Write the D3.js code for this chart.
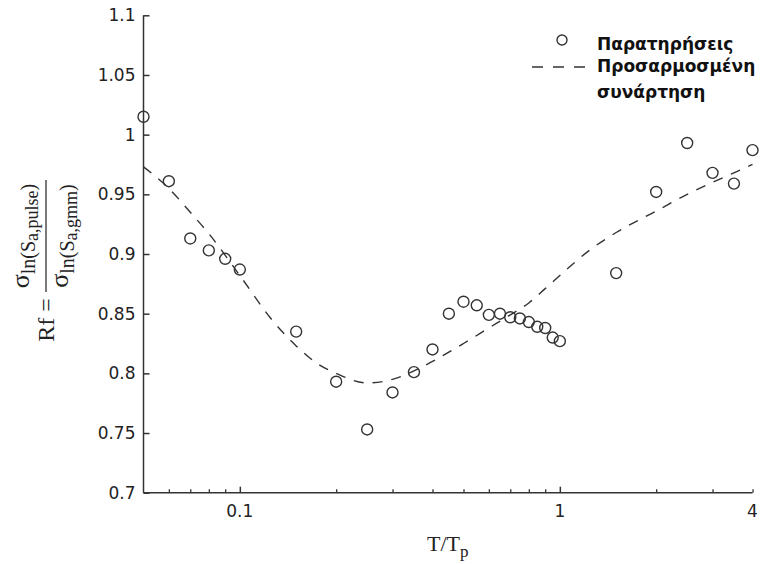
<!DOCTYPE html>
<html>
<head>
<meta charset="utf-8">
<script src="https://cdn.jsdelivr.net/npm/d3@7"></script>
<style>
  html, body { margin: 0; padding: 0; background: #fff; }
  svg { display: block; }
  .tick-label { font-family: 'DejaVu Sans', sans-serif; font-size: 17px; fill: #222; }
  .serif { font-family: 'Liberation Serif', 'Times New Roman', serif; fill: #222; }
  .legend-text { font-family: 'DejaVu Sans', sans-serif; font-size: 17px; font-weight: bold; fill: #111; }
</style>
</head>
<body>
<svg id="chart" width="761" height="564"></svg>
<script>
// ── Data ──────────────────────────────────────────────────
const obsT  = [0.05, 0.06, 0.07, 0.08, 0.09, 0.1, 0.15, 0.2, 0.25, 0.3, 0.35, 0.4, 0.45, 0.5, 0.55,
               0.6, 0.65, 0.7, 0.75, 0.8, 0.85, 0.9, 0.95, 1, 1.5, 2, 2.5, 3, 3.5, 4];
const obsRf = [1.015, 0.961, 0.913, 0.903, 0.896, 0.887, 0.835, 0.793, 0.753, 0.784, 0.801, 0.820, 0.850, 0.860, 0.857,
               0.849, 0.850, 0.847, 0.846, 0.843, 0.839, 0.838, 0.830, 0.827, 0.884, 0.952, 0.993, 0.968, 0.959, 0.987];

// fitted function
const fitT  = [0.05, 0.06, 0.07, 0.08, 0.1, 0.125, 0.15, 0.175, 0.2, 0.25, 0.3, 0.35, 0.4, 0.5, 0.6,
               0.7, 0.8, 0.9, 1, 1.25, 1.5, 2, 2.5, 3, 3.5, 4];
const fitRf = [0.973, 0.955, 0.935, 0.917, 0.882, 0.846, 0.823, 0.808, 0.800, 0.792, 0.795, 0.802, 0.810, 0.825, 0.838,
               0.849, 0.859, 0.871, 0.882, 0.904, 0.918, 0.936, 0.950, 0.960, 0.968, 0.975];

const yTicks = [0.7, 0.75, 0.8, 0.85, 0.9, 0.95, 1, 1.05, 1.1];
const yTickLabels = ['0.7', '0.75', '0.8', '0.85', '0.9', '0.95', '1', '1.05', '1.1'];
const xMajorTicks = [0.1, 1];
const xMinorTicks = [0.06, 0.07, 0.08, 0.09, 0.2, 0.3, 0.4, 0.5, 0.6, 0.7, 0.8, 0.9, 2, 3, 4];
const xTickLabels = [[0.1, '0.1'], [1, '1'], [4, '4']];

const legendItems = ['Παρατηρήσεις', 'Προσαρμοσμένη', 'συνάρτηση'];

// ── Layout ────────────────────────────────────────────────
const svg = d3.select('#chart');
const X0 = 143.5, X1 = 752.5, Y0 = 492.7, Y1 = 15.3;
const INK = '#333';

const x = d3.scaleLog().domain([0.05, 4]).range([X0, X1]);
const y = d3.scaleLinear().domain([0.7, 1.1]).range([Y0, Y1]);

// ── Axes ──────────────────────────────────────────────────
const axes = svg.append('g');

// left axis, ticks pointing inward
const yAxis = d3.axisRight(y).tickValues(yTicks).tickSize(6).tickFormat('');
axes.append('g').attr('transform', `translate(${X0},0)`).call(yAxis)
  .call(g => g.select('.domain').attr('d', `M0,${Y0}V${Y1}`))
  .call(g => g.selectAll('line, path').attr('stroke', INK).attr('stroke-width', 1.5));

axes.append('g').selectAll('text')
  .data(yTicks)
  .join('text')
  .attr('class', 'tick-label')
  .attr('x', X0 - 8)
  .attr('y', d => y(d))
  .attr('dy', '0.36em')
  .attr('text-anchor', 'end')
  .text((d, i) => yTickLabels[i]);

// bottom axis, ticks pointing up
axes.append('g').attr('transform', `translate(0,${Y0})`)
  .call(d3.axisTop(x).tickValues(xMajorTicks).tickSize(6).tickFormat(''))
  .call(g => g.select('.domain').attr('d', `M${X0},0H${X1}`))
  .call(g => g.selectAll('line, path').attr('stroke', INK).attr('stroke-width', 1.5));

axes.append('g').attr('transform', `translate(0,${Y0})`)
  .call(d3.axisTop(x).tickValues(xMinorTicks).tickSize(3.5).tickFormat(''))
  .call(g => g.select('.domain').remove())
  .call(g => g.selectAll('line').attr('stroke', INK).attr('stroke-width', 1.3));

axes.append('g').selectAll('text')
  .data(xTickLabels)
  .join('text')
  .attr('class', 'tick-label')
  .attr('x', d => x(d[0]))
  .attr('y', Y0 + 24)
  .attr('text-anchor', 'middle')
  .text(d => d[1]);

// x axis title T/Tp
const xt = svg.append('text').attr('class', 'serif')
  .attr('x', 427).attr('y', 551).attr('font-size', 22);
xt.append('tspan').text('T/T');
xt.append('tspan').attr('font-size', 17).attr('dy', 6).text('p');

// y axis title: Rf = σ ln(Sa,pulse) / σ ln(Sa,gmm)
const yl = svg.append('g').attr('transform', 'translate(46,236) rotate(-90)');
yl.append('line')
  .attr('x1', -56).attr('x2', 56).attr('y1', 0).attr('y2', 0)
  .attr('stroke', INK).attr('stroke-width', 1.3);

function sigmaLabel(sub, yBase) {
  const t = yl.append('text').attr('class', 'serif')
    .attr('x', 0).attr('y', yBase).attr('text-anchor', 'middle').attr('font-size', 26);
  t.append('tspan').text('σ');
  t.append('tspan').attr('font-size', 20).attr('dy', 6).text('ln(S');
  t.append('tspan').attr('font-size', 18).attr('dy', 3).text('a,' + sub);
  t.append('tspan').attr('font-size', 20).attr('dy', -3).text(')');
}
sigmaLabel('pulse', -17);
sigmaLabel('gmm', 22);

yl.append('text').attr('class', 'serif')
  .attr('x', -84).attr('y', 8).attr('text-anchor', 'middle').attr('font-size', 24)
  .text('Rf =');

// ── Marks ─────────────────────────────────────────────────
const fitData = fitT.map((t, i) => [t, fitRf[i]]);
const line = d3.line()
  .x(d => x(d[0]))
  .y(d => y(d[1]))
  .curve(d3.curveMonotoneX);

svg.append('path')
  .datum(fitData)
  .attr('d', line)
  .attr('fill', 'none')
  .attr('stroke', INK)
  .attr('stroke-width', 1.4)
  .attr('stroke-dasharray', '10,9');

svg.append('g').selectAll('circle')
  .data(obsT.map((t, i) => [t, obsRf[i]]))
  .join('circle')
  .attr('cx', d => x(d[0]))
  .attr('cy', d => y(d[1]))
  .attr('r', 5.5)
  .attr('fill', 'none')
  .attr('stroke', INK)
  .attr('stroke-width', 1.4);

// ── Legend ────────────────────────────────────────────────
const legend = svg.append('g');
legend.append('circle')
  .attr('cx', 562).attr('cy', 40).attr('r', 5)
  .attr('fill', 'none').attr('stroke', INK).attr('stroke-width', 1.4);
legend.append('line')
  .attr('x1', 532).attr('x2', 588).attr('y1', 67).attr('y2', 67)
  .attr('stroke', INK).attr('stroke-width', 1.4)
  .attr('stroke-dasharray', '11,10');
legend.selectAll('text')
  .data(legendItems)
  .join('text')
  .attr('class', 'legend-text')
  .attr('x', 597)
  .attr('y', (d, i) => [50, 72, 98][i])
  .text(d => d);
</script>
</body>
</html>
